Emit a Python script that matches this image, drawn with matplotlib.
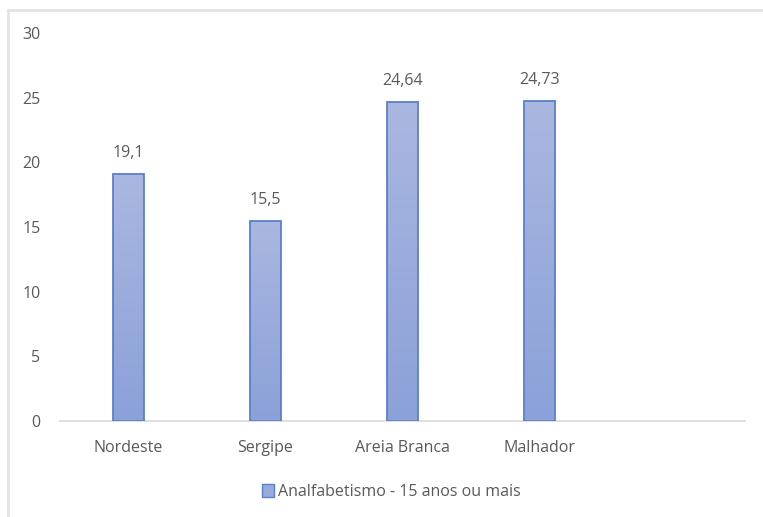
import numpy as np
import matplotlib.pyplot as plt
from matplotlib.patches import Rectangle
from matplotlib.lines import Line2D

# Data
categorias = ["Nordeste", "Sergipe", "Areia Branca", "Malhador"]
valores = [19.1, 15.5, 24.64, 24.73]
rotulos = ["19,1", "15,5", "24,64", "24,73"]
serie = "Analfabetismo - 15 anos ou mais"

TEXT = "#595959"
EDGE = "#5b7fcc"
FS = 11.5
plt.rcParams['font.family'] = ['Open Sans', 'DejaVu Sans']

fig = plt.figure(figsize=(7.63, 5.17), dpi=100)
ax = fig.add_axes([60 / 763, 1 - 421 / 517, 685 / 763, 388 / 517])

# outer chart frame (top and left edges)
fig.add_artist(Line2D([8 / 763, 1.0], [1 - 10 / 517, 1 - 10 / 517],
                      transform=fig.transFigure, color="#e3e3e3", lw=2))
fig.add_artist(Line2D([8 / 763, 8 / 763], [0, 1 - 10 / 517],
                      transform=fig.transFigure, color="#e3e3e3", lw=2))

x = np.arange(len(categorias))
width = 0.22
bars = ax.bar(x, valores, width, color="none", edgecolor=EDGE, linewidth=1.3,
              zorder=3, label=serie)

# vertical gradient fill inside each bar
grad = np.linspace(0, 1, 256).reshape(-1, 1)
cmap = plt.matplotlib.colors.LinearSegmentedColormap.from_list(
    "barra", ["#8ba1d9", "#aab7e0"])
for b in bars:
    x0, y0 = b.get_x(), b.get_y()
    w, h = b.get_width(), b.get_height()
    im = ax.imshow(grad, extent=[x0, x0 + w, y0, y0 + h], origin="lower",
                   cmap=cmap, aspect="auto", zorder=2)
    im.set_clip_path(Rectangle((x0, y0), w, h, transform=ax.transData))

for xi, v, t in zip(x, valores, rotulos):
    ax.text(xi, v + 1.0, t, ha="center", va="bottom", fontsize=FS, color=TEXT)

ax.set_xlim(-0.5, 4.5)
ax.set_ylim(0, 30)
ax.set_yticks(range(0, 31, 5))
ax.set_xticks(x)
ax.set_xticklabels(categorias)
ax.tick_params(axis="both", length=0, colors=TEXT, labelsize=FS)
ax.tick_params(axis="y", pad=14)
ax.tick_params(axis="x", pad=14)
for s in ["top", "right", "left"]:
    ax.spines[s].set_visible(False)
ax.spines["bottom"].set_color("#d9d9d9")
ax.spines["bottom"].set_linewidth(1.2)

handle = Rectangle((0, 0), 1, 1, facecolor="#97aadc", edgecolor=EDGE, lw=1)
fig.legend([handle], [serie], loc="center", bbox_to_anchor=(391 / 763, 1 - 492 / 517),
           frameon=False, fontsize=FS, labelcolor=TEXT, handlelength=0.8,
           handleheight=0.8, handletextpad=0.2)

fig.savefig("out.png", dpi=100)
